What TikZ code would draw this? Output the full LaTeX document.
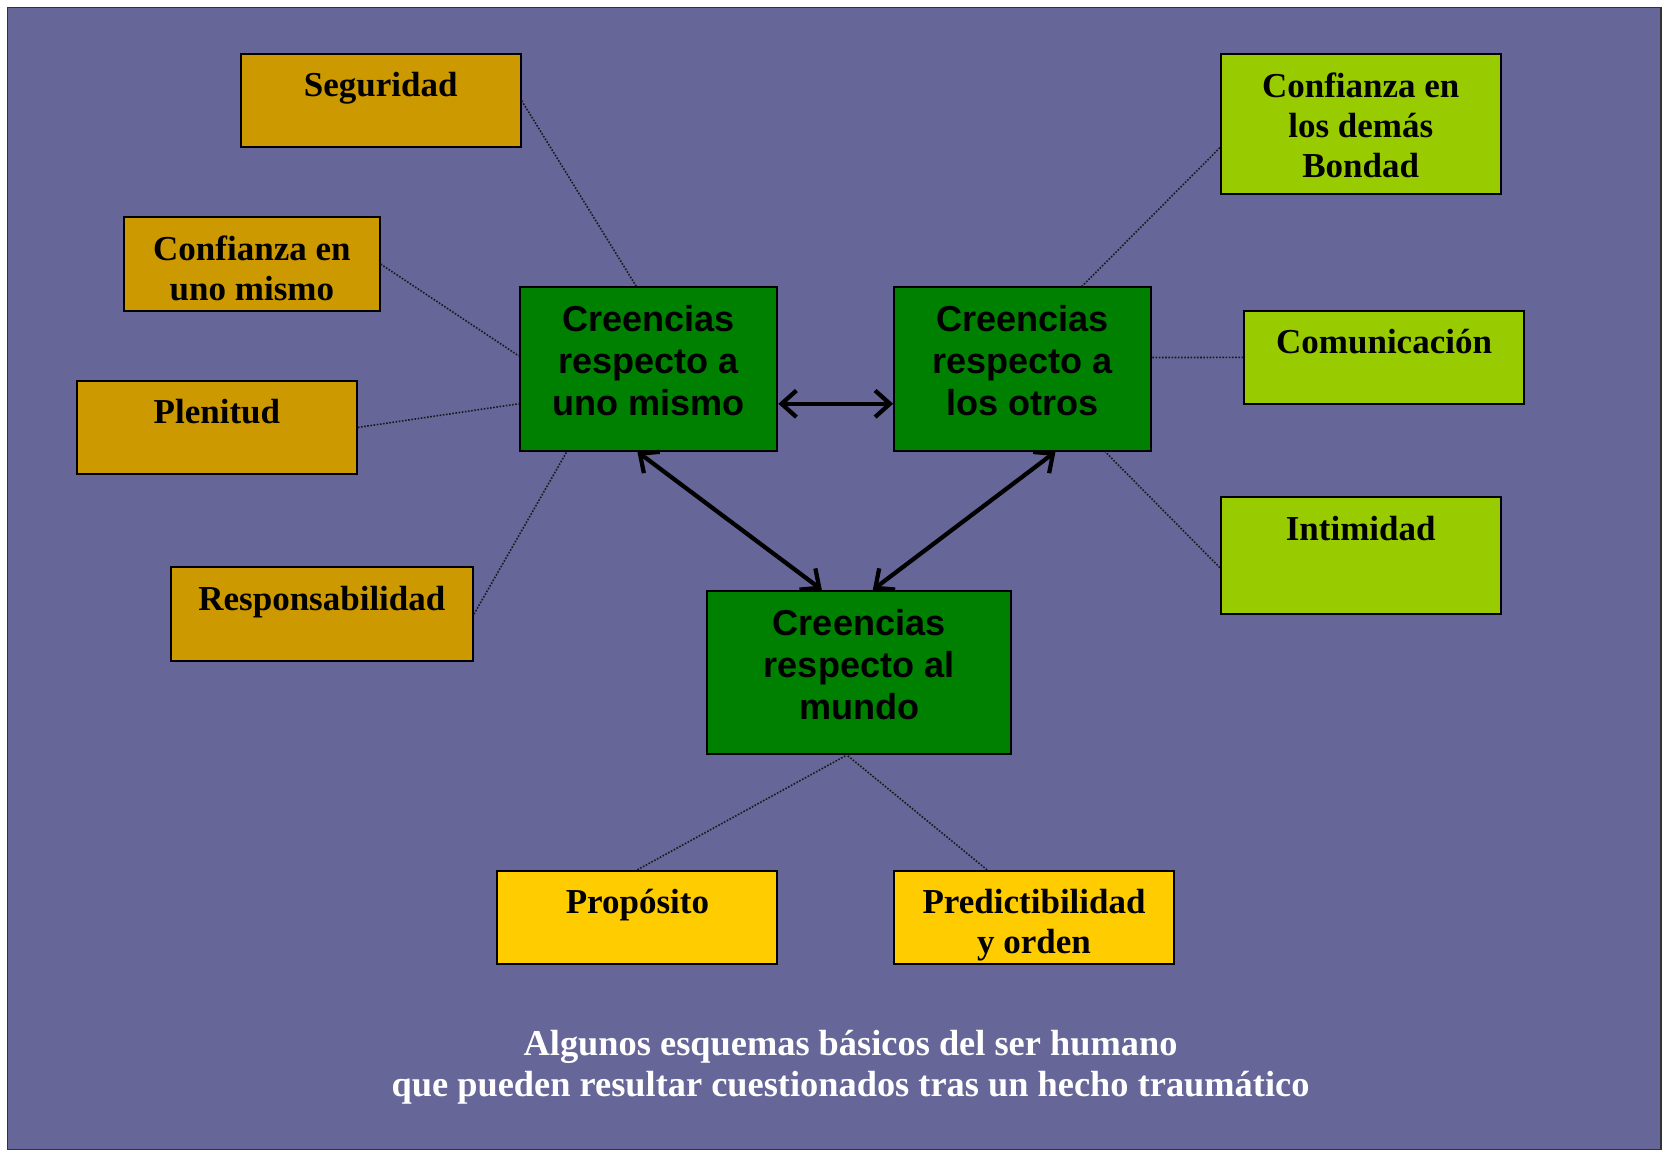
\documentclass[tikz,border=0pt]{standalone}
\usepackage{fontspec}
\setmainfont{Liberation Serif}
\setsansfont{Liberation Sans}
\usetikzlibrary{calc,arrows.meta}

\definecolor{slate}{HTML}{666699}
\definecolor{ochre}{HTML}{CC9900}
\definecolor{lime}{HTML}{99CC00}
\definecolor{gold}{HTML}{FFCC00}
\definecolor{leaf}{HTML}{008000}

\tikzset{
  boxbase/.style={rectangle, draw=black, line width=1.8pt, inner sep=0pt},
  ochrebox/.style={boxbase, fill=ochre, minimum width=264pt, minimum height=88pt},
  limebox/.style={boxbase, fill=lime, minimum width=264pt},
  goldbox/.style={boxbase, fill=gold, minimum width=264pt, minimum height=88pt},
  leafbox/.style={boxbase, fill=leaf, minimum height=154pt},
  serifline/.style={anchor=north, inner sep=0pt, align=center,
    font=\fontsize{33}{38}\selectfont\bfseries},
  sansline/.style={anchor=north, inner sep=0pt, align=center,
    font=\fontsize{34}{39.5}\selectfont\sffamily\bfseries},
  link/.style={line width=1.5pt, black!90, dash pattern=on 1.5pt off 1.5pt},
  twoway/.style={line width=4pt, line cap=round, line join=round,
    {Straight Barb[length=14pt,width=25pt]}-{Straight Barb[length=14pt,width=25pt]}}
}

\begin{document}
\begin{tikzpicture}[x=1pt,y=-1pt]
  % page and slide background
  \fill[white] (0,0) rectangle (1568,1086);
  \useasboundingbox (0,0) rectangle (1568,1086);
  \draw[fill=slate, draw=black!80, line width=1.2pt] (7,7) rectangle (1566,1084);

  % central belief boxes
  \node[leafbox, minimum width=243pt] (self)  at (611.5,348) {};
  \node[leafbox, minimum width=242pt] (other) at (964,348) {};
  \node[leafbox, minimum width=286pt] (world) at (810,634) {};
  \node[sansline] (selfT)  at ($(self.north)+(0,18)$)  {Creencias\\respecto a\\uno mismo};
  \node[sansline] (otherT) at ($(other.north)+(0,18)$) {Creencias\\respecto a\\los otros};
  \node[sansline] (worldT) at ($(world.north)+(0,18)$) {Creencias\\respecto al\\mundo};

  % schemas about oneself
  \node[ochrebox] (seg)  at (359,95)  {};
  \node[ochrebox, minimum width=241pt] (conf) at (237.5,249) {};
  \node[ochrebox] (plen) at (204.5,403) {};
  \node[ochrebox, minimum width=285pt] (resp) at (303.5,579) {};
  \node[serifline] (segT)  at ($(seg.north)+(0,18)$)  {Seguridad};
  \node[serifline] (confT) at ($(conf.north)+(0,18)$) {Confianza en\\uno mismo};
  \node[serifline] (plenT) at ($(plen.north)+(0,18)$) {Plenitud};
  \node[serifline] (respT) at ($(resp.north)+(0,18)$) {Responsabilidad};

  % schemas about the others
  \node[limebox, minimum height=132pt] (dem) at (1283,117) {};
  \node[limebox, minimum height=88pt]  (com) at (1305,337) {};
  \node[limebox, minimum height=110pt] (inti) at (1283,524) {};
  \node[serifline] (demT)  at ($(dem.north)+(0,18)$)  {Confianza en\\los demás\\Bondad};
  \node[serifline] (comT)  at ($(com.north)+(0,18)$)  {Comunicación};
  \node[serifline] (intiT) at ($(inti.north)+(0,18)$) {Intimidad};

  % schemas about the world
  \node[goldbox] (prop) at (601,865) {};
  \node[goldbox] (pred) at (975,865) {};
  \node[serifline] (propT) at ($(prop.north)+(0,18)$) {Propósito};
  \node[serifline] (predT) at ($(pred.north)+(0,18)$) {Predictibilidad\\y orden};

  % dotted links
  \draw[link] (seg.east) -- ($(self.north west)!0.453!(self.north east)$);
  \draw[link] (conf.east) -- ($(self.north west)!0.42!(self.south west)$);
  \draw[link] (plen.east) -- ($(self.north west)!0.71!(self.south west)$);
  \draw[link] (resp.east) -- ($(self.south west)!0.185!(self.south east)$);
  \draw[link] ($(dem.north west)!0.667!(dem.south west)$) -- ($(other.north west)!0.73!(other.north east)$);
  \draw[link] (com.west) -- ($(other.north east)!0.43!(other.south east)$);
  \draw[link] ($(inti.north west)!0.6!(inti.south west)$) -- ($(other.south west)!0.82!(other.south east)$);
  \draw[link] (prop.north) -- ($(world.south west)!0.46!(world.south east)$);
  \draw[link] ($(pred.north west)!0.333!(pred.north east)$) -- ($(world.south west)!0.46!(world.south east)$);

  % two-way arrows between the belief boxes
  \draw[twoway] ($(self.north east)!0.71!(self.south east)$) -- ($(other.north west)!0.71!(other.south west)$);
  \draw[twoway] ($(self.south west)!0.457!(self.south east)$) -- ($(world.north west)!0.378!(world.north east)$);
  \draw[twoway] ($(other.south west)!0.628!(other.south east)$) -- ($(world.north west)!0.545!(world.north east)$);

  % caption
  \node[serifline, text=white, font=\fontsize{34.3}{39}\selectfont\bfseries] (cap) at (802,971)
    {Algunos esquemas básicos del ser humano\\que pueden resultar cuestionados tras un hecho traumático};
\end{tikzpicture}
\end{document}
